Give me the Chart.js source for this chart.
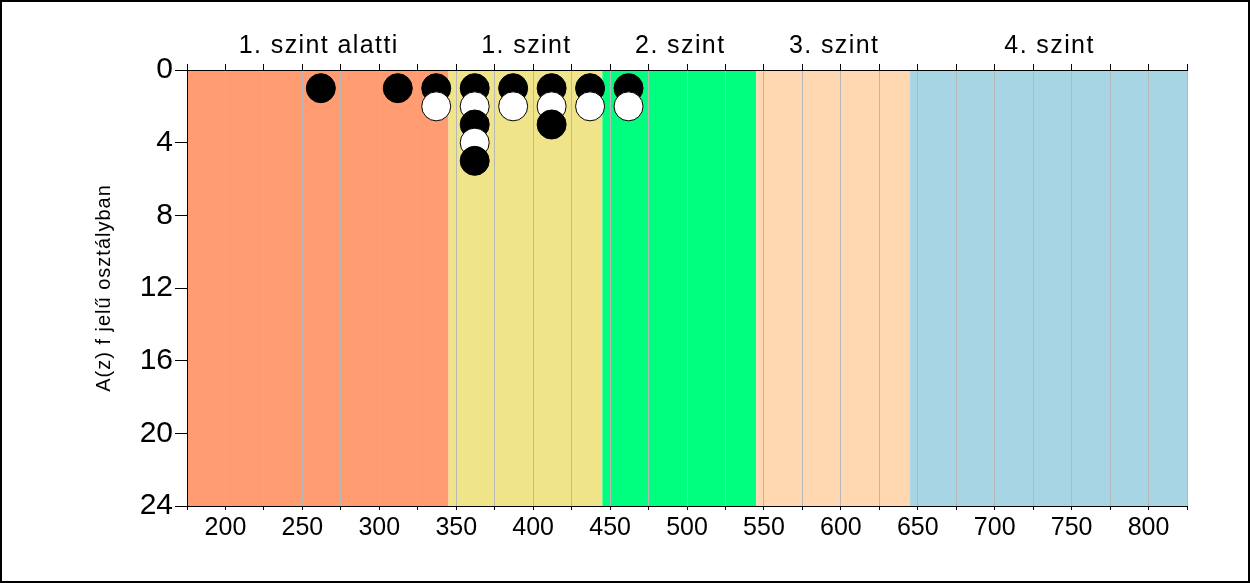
<!DOCTYPE html>
<html lang="hu">
<head>
    <meta charset="UTF-8">
    <title>Szintek</title>
    <script src="https://cdn.jsdelivr.net/npm/chart.js"></script>
    <style>
        html, body { margin: 0; padding: 0; background: #fff; }
        .wrap { position: relative; width: 1250px; height: 583px; }
    </style>
</head>
<body>
    <div class="wrap"><canvas id="chart" width="1250" height="583"></canvas></div>

    <script>
        // sávok (képességszintek)
        const bandNames = ['1. szint alatti', '1. szint', '2. szint', '3. szint', '4. szint'];
        const bandEdges = [175, 345, 445, 545, 645, 825];
        const bandColors = ['#FF9C72', '#F0E48A', '#00FF7F', '#FFD8B2', '#A8D5E4'];

        // tengelyek
        const xMin = 175, xMax = 825, xStep = 25;
        const yTicks = [0, 4, 8, 12, 16, 20, 24];

        // pontok: [pontszám, sorszám]
        const blackPoints = [[262, 1], [312, 1], [337, 1], [362, 1], [387, 1], [412, 1], [437, 1], [462, 1],
                             [362, 3], [412, 3], [362, 5]];
        const whitePoints = [[337, 2], [362, 2], [387, 2], [412, 2], [437, 2], [462, 2], [362, 4]];

        const yTitle = 'A(z) f jelű osztályban';

        const FONT = 'Arial, "Liberation Sans", sans-serif';

        // egy adatsorba rakjuk, y szerint rendezve, hogy a takarás stimmeljen
        const allPoints = blackPoints.map(p => ({ x: p[0], y: p[1], c: '#000000' }))
            .concat(whitePoints.map(p => ({ x: p[0], y: p[1], c: '#ffffff' })))
            .sort((a, b) => a.y - b.y);

        const bandsPlugin = {
            id: 'bands',
            beforeDraw(chart) {
                const { ctx, chartArea, scales } = chart;
                ctx.save();
                for (let i = 0; i < bandNames.length; i++) {
                    const x0 = scales.x.getPixelForValue(bandEdges[i]);
                    const x1 = scales.x.getPixelForValue(bandEdges[i + 1]);
                    ctx.fillStyle = bandColors[i];
                    ctx.fillRect(x0, chartArea.top, x1 - x0, chartArea.bottom - chartArea.top);
                }
                ctx.restore();
            },
            afterDraw(chart) {
                const { ctx, chartArea, scales } = chart;
                ctx.save();
                ctx.fillStyle = '#000';
                ctx.font = '25px ' + FONT;
                ctx.letterSpacing = '1.4px';
                ctx.textAlign = 'center';
                ctx.textBaseline = 'middle';
                for (let i = 0; i < bandNames.length; i++) {
                    const mid = (bandEdges[i] + bandEdges[i + 1]) / 2;
                    ctx.fillText(bandNames[i], scales.x.getPixelForValue(mid) + 1, 46);
                }
                // y tengely felirat
                ctx.font = '20px ' + FONT;
                ctx.letterSpacing = '1px';
                ctx.translate(104, (chartArea.top + chartArea.bottom) / 2);
                ctx.rotate(-Math.PI / 2);
                ctx.fillText(yTitle, 0, 0);
                ctx.restore();
                // keret
                ctx.save();
                ctx.strokeStyle = '#000';
                ctx.lineWidth = 2;
                ctx.strokeRect(1, 1, chart.width - 2, chart.height - 2);
                ctx.restore();
            }
        };

        new Chart(document.getElementById('chart'), {
            type: 'scatter',
            data: {
                datasets: [{
                    data: allPoints.map(p => ({ x: p.x, y: p.y })),
                    pointBackgroundColor: allPoints.map(p => p.c),
                    pointBorderColor: '#000',
                    pointBorderWidth: 1,
                    pointRadius: 14.5,
                    pointHoverRadius: 14.5
                }]
            },
            options: {
                responsive: false,
                animation: false,
                devicePixelRatio: 1,
                layout: { padding: { left: 0, right: 63, top: 0, bottom: 0 } },
                plugins: {
                    legend: { display: false },
                    tooltip: { enabled: false }
                },
                scales: {
                    x: {
                        type: 'linear',
                        position: 'bottom',
                        min: xMin,
                        max: xMax,
                        afterBuildTicks(scale) {
                            const t = [];
                            for (let v = xMin; v <= xMax; v += xStep) t.push({ value: v });
                            scale.ticks = t;
                        },
                        afterFit(scale) { scale.height = 77; },
                        grid: {
                            color: '#B8B8B8',
                            tickColor: '#000',
                            tickLength: 4,
                            lineWidth: 1
                        },
                        border: { display: true, color: '#000', width: 1 },
                        ticks: {
                            autoSkip: false,
                            maxRotation: 0,
                            padding: 3,
                            color: '#000',
                            font: { size: 25, family: FONT },
                            callback: v => (v % 50 === 0 ? String(v) : '')
                        }
                    },
                    xTop: {
                        type: 'linear',
                        position: 'top',
                        min: xMin,
                        max: xMax,
                        afterBuildTicks(scale) {
                            const t = [];
                            for (let v = xMin; v <= xMax; v += xStep) t.push({ value: v });
                            scale.ticks = t;
                        },
                        afterFit(scale) { scale.height = 70; },
                        grid: {
                            drawOnChartArea: false,
                            tickColor: '#000',
                            tickLength: 6
                        },
                        border: { display: true, color: '#000', width: 1 },
                        ticks: { display: false }
                    },
                    y: {
                        type: 'linear',
                        reverse: true,
                        min: 0,
                        max: 24,
                        afterBuildTicks(scale) {
                            scale.ticks = yTicks.map(v => ({ value: v }));
                        },
                        afterFit(scale) { scale.width = 187; },
                        grid: {
                            drawOnChartArea: false,
                            tickColor: '#000',
                            tickLength: 12
                        },
                        border: { display: true, color: '#000', width: 1 },
                        ticks: {
                            padding: 2,
                            color: '#000',
                            font: { size: 30, family: FONT }
                        }
                    }
                }
            },
            plugins: [bandsPlugin]
        });
    </script>
</body>
</html>
